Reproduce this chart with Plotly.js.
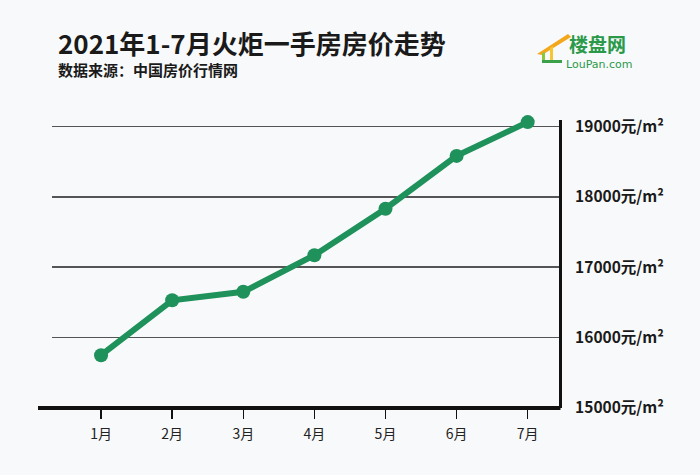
<!DOCTYPE html>
<html>
<head>
<meta charset="utf-8">
<script src="https://cdn.plot.ly/plotly-3.0.1.min.js"></script>
<style>html,body{margin:0;padding:0;background:#f8f9fb;}</style>
</head>
<body>
<div id="chart" style="width:700px;height:475px;"></div>
<script>
const months = ['1月','2月','3月','4月','5月','6月','7月'];
const prices = [15750, 16530, 16650, 17170, 17830, 18580, 19060];
const yTickVals = [15000, 16000, 17000, 18000, 19000];
const yTickText = ['15000元/m²','16000元/m²','17000元/m²','18000元/m²','19000元/m²'];
const titleText = '2021年1-7月火炬一手房房价走势';
const subtitleText = '数据来源：中国房价行情网';

const W = 700, H = 475;
const L = 52, R = 141, T = 120, B = 67;
const pw = W - L - R, ph = H - T - B;
const px = x => (x - L) / pw;
const py = y => (H - B - y) / ph;

const font = '"Noto Sans CJK SC", "Noto Sans", sans-serif';

const trace = {
  x: months.map((m, i) => i),
  y: prices,
  type: 'scatter',
  mode: 'lines+markers',
  cliponaxis: false,
  line: {color: '#1f915a', width: 6},
  marker: {color: '#1f915a', size: 14},
  hoverinfo: 'skip'
};

const layout = {
  width: W, height: H,
  margin: {l: L, r: R, t: T, b: B, pad: 0},
  paper_bgcolor: '#f8f9fb',
  plot_bgcolor: '#f8f9fb',
  showlegend: false,
  xaxis: {
    range: [-0.69, 6.44],
    tickvals: months.map((m, i) => i),
    ticktext: months,
    ticks: 'outside', ticklen: 10, tickwidth: 1.5, tickcolor: '#111',
    ticklabelstandoff: 3,
    showgrid: false, zeroline: false, showline: false,
    tickfont: {family: font, size: 14, color: '#222'},
    fixedrange: true
  },
  yaxis: {
    range: [15000, 19090],
    side: 'right',
    tickvals: yTickVals,
    ticktext: yTickText,
    ticks: '',
    ticklabelstandoff: 10,
    showgrid: true, gridcolor: '#555', gridwidth: 1.5,
    zeroline: false,
    showline: true, linecolor: '#111', linewidth: 3,
    tickfont: {family: font, size: 15.5, color: '#1a1a1a', weight: 'bold'},
    fixedrange: true
  },
  shapes: [
    {type: 'line', xref: 'paper', yref: 'paper', x0: px(38), x1: px(560.5), y0: 0, y1: 0,
     line: {color: '#111', width: 4}},
    // logo house
    {type: 'path', xref: 'paper', yref: 'paper',
     path: `M ${px(537)} ${py(54)} L ${px(568)} ${py(34)} L ${px(571)} ${py(37)} L ${px(542)} ${py(55)} Z`,
     fillcolor: '#f3a81b', line: {width: 0}},
    {type: 'path', xref: 'paper', yref: 'paper',
     path: `M ${px(542)} ${py(53)} L ${px(545)} ${py(52)} L ${px(545)} ${py(63)} L ${px(542)} ${py(63)} Z`,
     fillcolor: '#8cc63f', line: {width: 0}},
    {type: 'path', xref: 'paper', yref: 'paper',
     path: `M ${px(542)} ${py(60)} L ${px(562)} ${py(60)} L ${px(562)} ${py(63)} L ${px(542)} ${py(63)} Z`,
     fillcolor: '#3aa14a', line: {width: 0}},
    {type: 'path', xref: 'paper', yref: 'paper',
     path: `M ${px(550)} ${py(48)} L ${px(553)} ${py(46)} L ${px(553)} ${py(60)} L ${px(550)} ${py(60)} Z`,
     fillcolor: '#f7c531', line: {width: 0}}
  ],
  annotations: [
    {text: '<b>' + titleText + '</b>', xref: 'paper', yref: 'paper', x: px(56), y: py(43),
     xanchor: 'left', yanchor: 'middle', showarrow: false,
     font: {family: font, size: 26, color: '#1a1a1a'}},
    {text: '<b>' + subtitleText + '</b>', xref: 'paper', yref: 'paper', x: px(56), y: py(70),
     xanchor: 'left', yanchor: 'middle', showarrow: false,
     font: {family: font, size: 15, color: '#1a1a1a'}},
    {text: '<b>楼盘网</b>', xref: 'paper', yref: 'paper', x: px(597), y: py(43.5),
     xanchor: 'center', yanchor: 'middle', showarrow: false,
     font: {family: font, size: 19, color: '#2a9a4a'}},
    {text: 'LouPan.com', xref: 'paper', yref: 'paper', x: px(599), y: py(64.5),
     xanchor: 'center', yanchor: 'middle', showarrow: false,
     font: {family: '"DejaVu Sans", sans-serif', size: 11, color: '#2a9a4a'}}
  ]
};

Plotly.newPlot('chart', [trace], layout, {displayModeBar: false, staticPlot: true});
</script>
</body>
</html>
